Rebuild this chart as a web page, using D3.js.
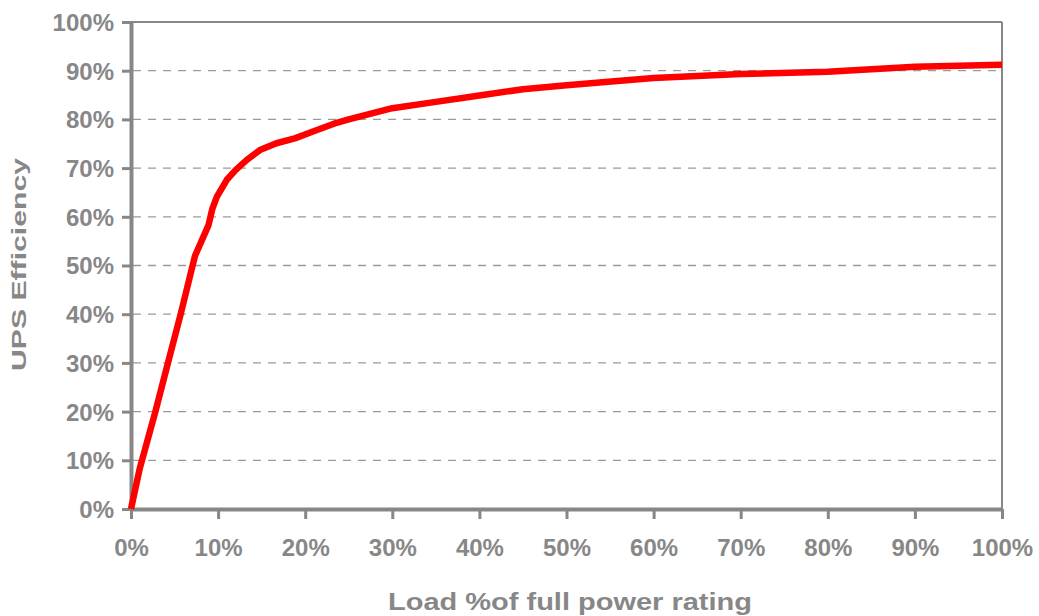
<!DOCTYPE html>
<html>
<head>
<meta charset="utf-8">
<script src="https://cdn.jsdelivr.net/npm/d3@7"></script>
<style>
  html, body { margin: 0; padding: 0; background: #fff; }
  svg { display: block; }
</style>
</head>
<body>
<svg id="chart" width="1039" height="616"></svg>
<script>
// Data
const loadPct = [0, 1, 2.8, 4.2, 5.7, 6.8, 7.35, 8.9, 9.35, 9.85, 11, 12, 13.3, 14.8, 16.7, 18.8, 20.9, 23.6, 25, 30, 35, 40, 45, 50, 60, 70, 80, 90, 100];
const efficiencyPct = [0, 8.3, 20, 29.7, 40, 48, 52, 58.3, 61.7, 64.1, 67.6, 69.6, 71.7, 73.7, 75.1, 76.1, 77.5, 79.3, 80, 82.3, 83.6, 84.9, 86.2, 87, 88.5, 89.3, 89.8, 90.8, 91.2];
const xTicks = [0, 10, 20, 30, 40, 50, 60, 70, 80, 90, 100];
const yTicks = [0, 10, 20, 30, 40, 50, 60, 70, 80, 90, 100];
const xTitle = "Load %of full power rating";
const yTitle = "UPS Efficiency";

const points = loadPct.map((v, i) => ({ x: v, y: efficiencyPct[i] }));

const svg = d3.select("#chart");
const plotLeft = 131, plotRight = 1002, plotTop = 22, plotBottom = 509;
const gray = "#878787";
const font = "'Liberation Sans', Arial, sans-serif";

const x = d3.scaleLinear().domain([0, 100]).range([plotLeft, plotRight]);
const y = d3.scaleLinear().domain([0, 100]).range([plotBottom, plotTop]);

// Gridlines (dashed)
svg.append("g")
  .selectAll("line")
  .data(yTicks.filter(d => d > 0 && d < 100))
  .join("line")
  .attr("x1", plotLeft + 2).attr("x2", plotRight)
  .attr("y1", d => y(d)).attr("y2", d => y(d))
  .attr("stroke", "#9a9a9a")
  .attr("stroke-width", 1.3)
  .attr("stroke-dasharray", "8,7");

// Top and right borders
svg.append("line")
  .attr("x1", plotLeft).attr("x2", plotRight)
  .attr("y1", y(100)).attr("y2", y(100))
  .attr("stroke", gray).attr("stroke-width", 2);
svg.append("line")
  .attr("x1", plotRight).attr("x2", plotRight)
  .attr("y1", y(100)).attr("y2", y(0))
  .attr("stroke", gray).attr("stroke-width", 2);

// Y axis
const yAxis = svg.append("g")
  .attr("transform", `translate(${plotLeft},0)`)
  .call(d3.axisLeft(y).tickValues(yTicks).tickFormat(d => d + "%").tickSize(9).tickSizeOuter(0).tickPadding(8));
yAxis.select(".domain").attr("stroke", gray).attr("stroke-width", 4);
yAxis.selectAll(".tick line").attr("stroke", gray).attr("stroke-width", 3);
yAxis.selectAll(".tick text")
  .attr("fill", gray)
  .attr("font-family", font)
  .attr("font-weight", "bold")
  .attr("font-size", "24px")
  .attr("dy", "0.35em");

// X axis
const xAxis = svg.append("g")
  .attr("transform", `translate(0,${plotBottom})`)
  .call(d3.axisBottom(x).tickValues(xTicks).tickFormat(d => d + "%").tickSize(10).tickSizeOuter(0).tickPadding(20));
xAxis.select(".domain").attr("stroke", gray).attr("stroke-width", 4);
xAxis.selectAll(".tick line").attr("stroke", gray).attr("stroke-width", 3);
xAxis.selectAll(".tick text")
  .attr("fill", gray)
  .attr("font-family", font)
  .attr("font-weight", "bold")
  .attr("font-size", "24px");

// Line
const line = d3.line().x(d => x(d.x)).y(d => y(d.y));
svg.append("path")
  .datum(points)
  .attr("d", line)
  .attr("fill", "none")
  .attr("stroke", "#ff0000")
  .attr("stroke-width", 6.5)
  .attr("stroke-linejoin", "round")
  .attr("stroke-linecap", "butt");

// Axis titles
svg.append("text")
  .attr("x", 388).attr("y", 610)
  .attr("textLength", 364)
  .attr("lengthAdjust", "spacingAndGlyphs")
  .attr("fill", gray)
  .attr("font-family", font)
  .attr("font-weight", "bold")
  .attr("font-size", "23px")
  .text(xTitle);

svg.append("text")
  .attr("transform", "translate(26,371) rotate(-90)")
  .attr("x", 0).attr("y", 0)
  .attr("textLength", 213)
  .attr("lengthAdjust", "spacingAndGlyphs")
  .attr("fill", gray)
  .attr("font-family", font)
  .attr("font-weight", "bold")
  .attr("font-size", "21px")
  .text(yTitle);
</script>
</body>
</html>
